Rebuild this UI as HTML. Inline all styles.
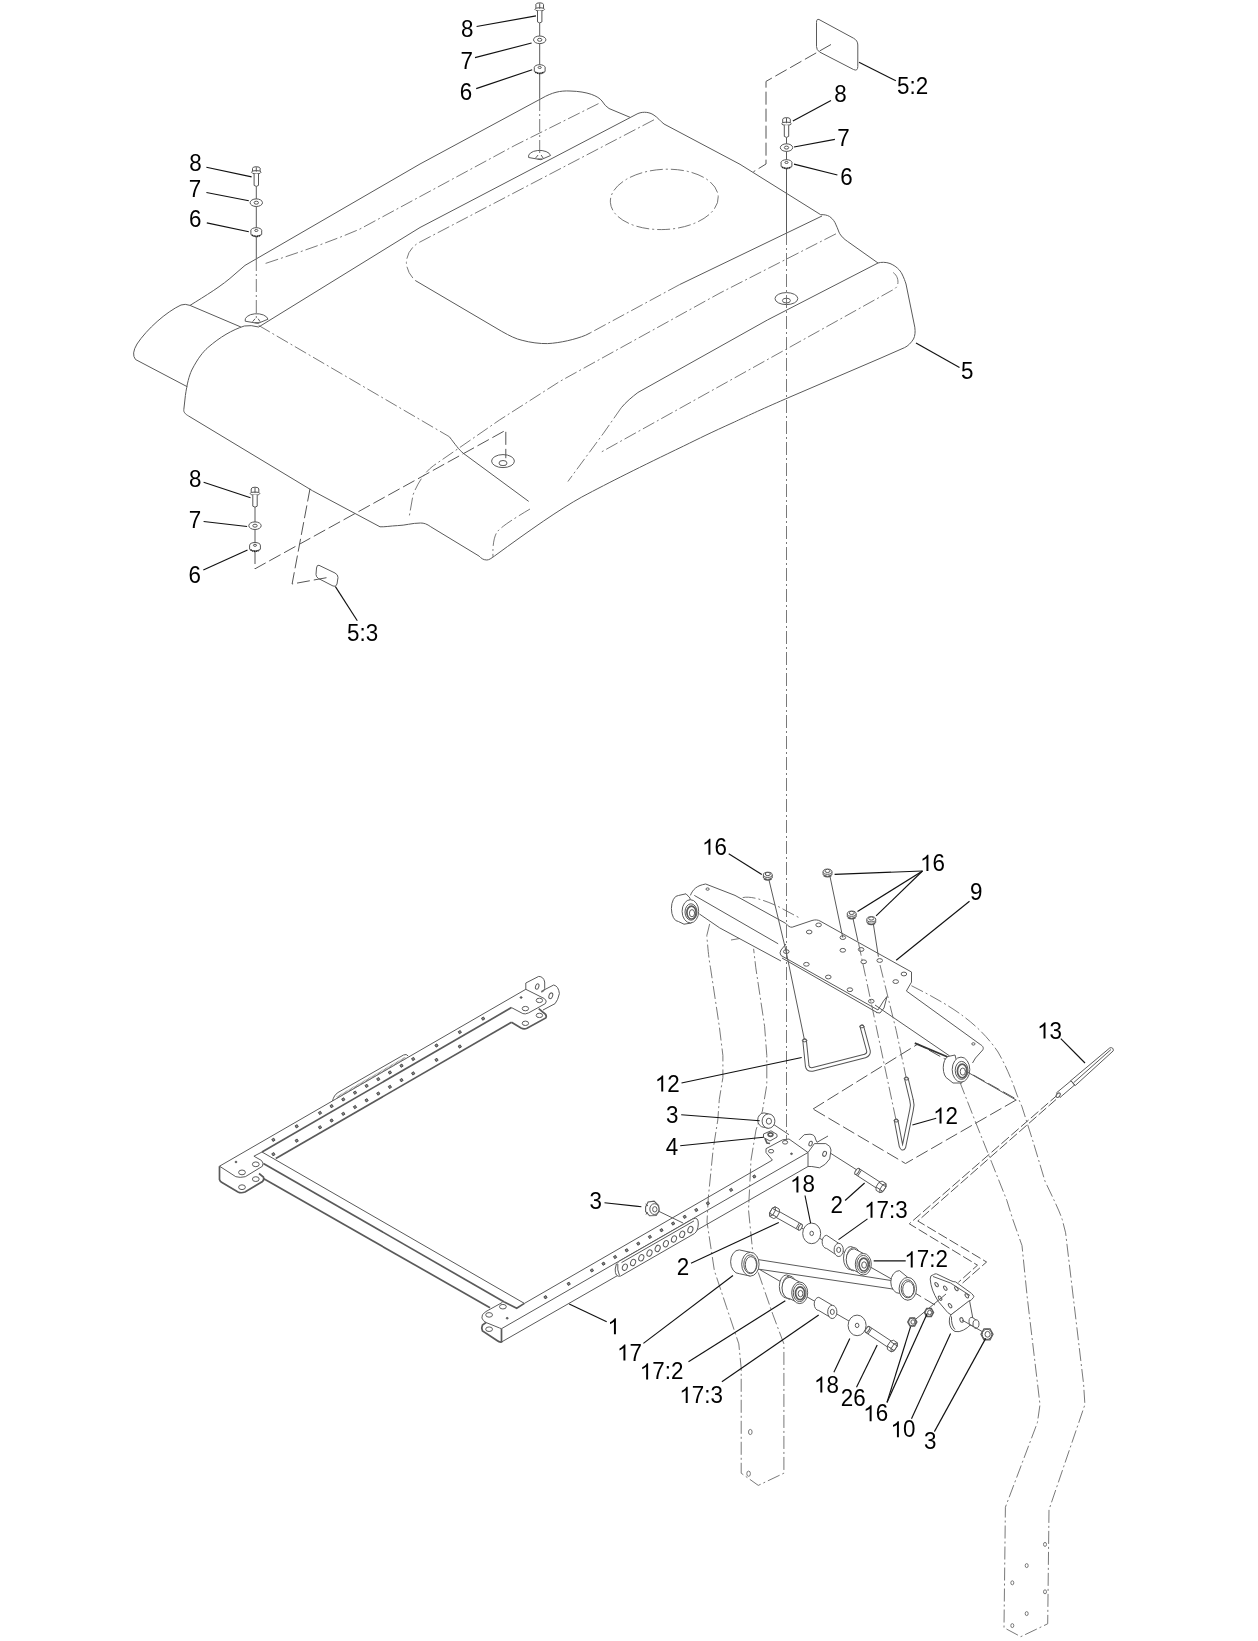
<!DOCTYPE html><html><head><meta charset="utf-8"><style>html,body{margin:0;padding:0;background:#fff;overflow:hidden}
svg{display:block;will-change:transform}
text{font-family:"Liberation Sans",sans-serif;font-size:22.4px;fill:#000}
.o{fill:none;stroke:#5a5a5a;stroke-width:1}
.ot{fill:none;stroke:#5a5a5a;stroke-width:1.7}
.ot2{fill:none;stroke:#333;stroke-width:1.8}
.d{fill:none;stroke:#6a6a6a;stroke-width:0.9;stroke-dasharray:13 3 2 3}
.d2{fill:none;stroke:#6a6a6a;stroke-width:0.9}
.ph{fill:none;stroke:#555;stroke-width:1;stroke-dasharray:13 4}
.ph2{fill:none;stroke:#555;stroke-width:1;stroke-dasharray:10 3}
.l{fill:none;stroke:#111;stroke-width:1.15}
.hw ellipse,.hw path,.hw line{fill:#fff;stroke:#555;stroke-width:1}
.hw line{fill:none}
</style></head><body><svg width="1258" height="1641" viewBox="0 0 1258 1641">
<defs><path id="g1" d="M763,0 L583,0 L583,-1147 Q518,-1085 465,-1054 Q412,-1023 359,-992 Q306,-961 223,-930 L223,-1104 Q372,-1174 428,-1224 Q484,-1274 540,-1324 Q596,-1374 643,-1466 L763,-1466 Z" style="fill:#000"/></defs>
<path class="o" d="M240.9,327 L190,305.4 Q185,303.5 181,305 C166,312 147,329 137,344 Q131,354 135.5,359.5 L187.4,386.8"/>
<path class="o" d="M190,305.4 C205,296 222,286 235,274 Q245,264 255,259.6 L420,164 L542,98.2 C552,92.5 560,90.5 570,91 C588,91.5 598,96 602,101 Q605,106 609,108.5 L630,117.3"/>
<path class="o" d="M258.7,327 L420,227.5 L636,114.5 C641,111.5 648,111.5 653,114.5 C658,117.5 660,121 664,124 L740,164.3 L820.7,214.7 C824,214.5 827,215 829.6,216.5 C833,219 835,222 836,224.9 C838,229 838.5,231.5 839.8,233.8 C842,237 844,239 847.5,241.4 L878,263"/>
<path class="o" d="M878,263 C881,262 886,262 890,263.5 C896,266 900,270 902,274 C904,278 905,281 906,284 L914.8,327.2 C915.5,332 915,336 913.5,339 C911,343 908,346 904.6,347.6 L880,358.4 L785.3,399 C760,410 745,417 734.4,422 C710,433 700,438 683.5,446.1 C640,467 610,482 581.8,497 C560,509 530,530 494.4,556.1 C491,558.5 489,560 486.8,560 C483,560 481,558 479.1,556.1 L430.8,526.8 C427,524 424,523 420.6,523 C412,523 405,525.5 397.7,525.6 C390,526 385,527 380,526.8 L312.6,490.8 L188.6,416 C185,414 183.5,412 183.8,409.7 L185.4,395.4 C187,384 189,376 191.8,370 C198,358 203,352 207.7,347.7 C220,337 232,330 244.3,326"/>
<path class="o" d="M244.3,326 Q251,324.8 258.7,327"/>
<path class="o" d="M822,216 L679.6,284.6"/>
<path class="o" d="M415.3,280.5 L501.8,331.4 C510,336 516,339 522.1,340.3 C530,342.5 540,343.8 547.5,343.6 C560,343 575,339.5 585.7,335.2 L590,333"/>
<path class="o" d="M878,263 L767.4,320 L637.9,392.5 C632,397 626,402 621.3,407.7"/>
<path class="o" d="M449.3,436.7 C455,444 459,450 463.6,453.5 L528.7,501.4"/>
<path class="d" d="M265.6,263.4 C300,252 330,242 360,229 L514.9,145.4 L600.7,102.5"/>
<path class="d" d="M654,119.8 L420,242 Q407,249 406.4,262.7 Q407,273 415.3,280.5"/>
<path class="d" d="M679.6,284.6 L590,333"/>
<path class="d" d="M836,233.8 L720,293 L560,381.3 L499.5,420 L433.3,465.8 C425,472 418,482 413,495 L409.2,516.7"/>
<path class="d" d="M893.2,272.5 C898,276 899,282 897,286.5 C895,289 893,290 892,290.3 L601,452.2"/>
<path class="d" d="M621.3,407.7 L603.5,433.2 L567.9,481.5"/>
<path class="d" d="M530,509 C515,518 502,526 497,532 C494,537 492.5,545 493,557"/>
<path class="d" d="M258.6,325.4 L449.3,436.7"/>
<ellipse class="d" cx="664.3" cy="199.4" rx="54.0" ry="30.1" transform="rotate(-3 664.3 199.4)"/>
<path class="o" d="M245.2,321.2 A11.4,6.4 0 0 1 268.0,319.2 L257.9,323.4 Z"/>
<path class="o" d="M252.6,321.7 L255.1,318.7 M258.1,318.7 L260.1,321.7 M254.6,322.7 L259.1,322.7"/>
<path class="o" d="M528.6,157.5 A11,6 0 0 1 550.6,155.5 L540.9,159.7 Z"/>
<path class="o" d="M535.6,158.0 L538.1,155.0 M541.1,155.0 L543.1,158.0 M537.6,159.0 L542.1,159.0"/>
<ellipse class="o" cx="786.4" cy="298.6" rx="11.4" ry="6.0"/>
<ellipse class="o" cx="786.4" cy="300.6" rx="4.0" ry="2.4"/>
<ellipse class="o" cx="503.0" cy="461.1" rx="11.4" ry="6.5"/>
<ellipse class="o" cx="503.0" cy="463.1" rx="4.0" ry="2.6"/>
<path class="o" d="M539.7,23 L539.7,98"/>
<path class="d" d="M539.7,98 L539.7,156"/>
<path class="o" d="M256.3,186 L256.3,258"/>
<path class="d" d="M256.3,258 L256.3,320"/>
<path class="o" d="M786.5,137 L786.5,232"/>
<path class="d" d="M786.5,232 L786.5,1140"/>
<path class="o" d="M255,507 L255,547"/>
<path class="ph" d="M255,551 L255,568.8 L505.8,430.2 L505.8,458.2"/>
<path class="ph" d="M310,488.7 L292.1,584 L326.5,577.7"/>
<path class="ph" d="M831,44.5 L766,81.4 L766,164 L753.4,171.8"/>
<path class="o" d="M819,19.5 L853.5,38.2 Q857.8,40.5 857.8,45 L857.8,66.5 Q857.8,71.5 853.5,69.5 L819.6,52 Q816.5,50 816.5,46.5 L816.5,22.5 Q816.5,18.5 819,19.5Z"/>
<path class="o" d="M319,565.3 L335,573 Q338,574.5 338,577.5 L337,584 Q336,587.5 333,586 L318.5,578.5 Q316,577 316,574.5 L316.5,568 Q317,564.5 319,565.3Z"/>
<g class="hw"><ellipse cx="539.7" cy="4.6" rx="3.8" ry="1.8"/><path d="M535.9,4.6 L535.9,8.8 L543.5,8.8 L543.5,4.6"/><ellipse cx="539.7" cy="9.3" rx="4.8" ry="1.6"/><line x1="539.7" y1="3.3" x2="539.7" y2="8.8"/><path d="M537.5,10.8 L537.5,21.9 Q539.7,23.9 541.9,21.9 L541.9,10.8"/></g>
<g class="hw"><ellipse cx="539.7" cy="39.8" rx="6.2" ry="3.8"/><ellipse cx="539.7" cy="39.8" rx="2.2" ry="1.5"/></g>
<g class="hw"><ellipse cx="539.7" cy="67.5" rx="5.4" ry="2.8"/><path d="M534.3000000000001,67.5 L534.3000000000001,71.5 Q539.7,75.14 545.1,71.5 L545.1,67.5"/><path d="M535.3000000000001,72.1 Q539.7,74.86 544.1,72.1" style="stroke:#222;stroke-width:1.7;stroke-dasharray:1.1 0.7;fill:none"/><ellipse cx="539.7" cy="67.5" rx="1.6" ry="1.0"/></g>
<g class="hw"><ellipse cx="256.3" cy="168.5" rx="3.8" ry="1.8"/><path d="M252.5,168.5 L252.5,171.7 L260.1,171.7 L260.1,168.5"/><ellipse cx="256.3" cy="172.2" rx="4.8" ry="1.6"/><line x1="256.3" y1="167.2" x2="256.3" y2="171.7"/><path d="M254.1,173.7 L254.1,185.4 Q256.3,187.4 258.5,185.4 L258.5,173.7"/></g>
<g class="hw"><ellipse cx="256.3" cy="202.7" rx="6.2" ry="3.8"/><ellipse cx="256.3" cy="202.7" rx="2.2" ry="1.5"/></g>
<g class="hw"><ellipse cx="256.3" cy="230.5" rx="5.4" ry="2.8"/><path d="M250.9,230.5 L250.9,234.5 Q256.3,238.14 261.7,234.5 L261.7,230.5"/><path d="M251.9,235.1 Q256.3,237.86 260.7,235.1" style="stroke:#222;stroke-width:1.7;stroke-dasharray:1.1 0.7;fill:none"/><ellipse cx="256.3" cy="230.5" rx="1.6" ry="1.0"/></g>
<g class="hw"><ellipse cx="786.5" cy="119.39999999999999" rx="3.8" ry="1.8"/><path d="M782.7,119.39999999999999 L782.7,123.2 L790.3,123.2 L790.3,119.39999999999999"/><ellipse cx="786.5" cy="123.7" rx="4.8" ry="1.6"/><line x1="786.5" y1="118.1" x2="786.5" y2="123.2"/><path d="M784.3,125.2 L784.3,136.4 Q786.5,138.4 788.7,136.4 L788.7,125.2"/></g>
<g class="hw"><ellipse cx="786.5" cy="147.6" rx="6.2" ry="3.8"/><ellipse cx="786.5" cy="147.6" rx="2.2" ry="1.5"/></g>
<g class="hw"><ellipse cx="786.5" cy="162.5" rx="5.4" ry="2.8"/><path d="M781.1,162.5 L781.1,166.5 Q786.5,170.14 791.9,166.5 L791.9,162.5"/><path d="M782.1,167.1 Q786.5,169.86 790.9,167.1" style="stroke:#222;stroke-width:1.7;stroke-dasharray:1.1 0.7;fill:none"/><ellipse cx="786.5" cy="162.5" rx="1.6" ry="1.0"/></g>
<g class="hw"><ellipse cx="255" cy="489.0" rx="3.8" ry="1.8"/><path d="M251.2,489.0 L251.2,493.1 L258.8,493.1 L258.8,489.0"/><ellipse cx="255" cy="493.6" rx="4.8" ry="1.6"/><line x1="255" y1="487.7" x2="255" y2="493.1"/><path d="M252.8,495.1 L252.8,506.2 Q255,508.2 257.2,506.2 L257.2,495.1"/></g>
<g class="hw"><ellipse cx="255" cy="525.7" rx="6.2" ry="3.8"/><ellipse cx="255" cy="525.7" rx="2.2" ry="1.5"/></g>
<g class="hw"><ellipse cx="255" cy="545.3" rx="5.4" ry="2.8"/><path d="M249.6,545.3 L249.6,549.3 Q255,552.9399999999999 260.4,549.3 L260.4,545.3"/><path d="M250.6,549.9 Q255,552.66 259.4,549.9" style="stroke:#222;stroke-width:1.7;stroke-dasharray:1.1 0.7;fill:none"/><ellipse cx="255" cy="545.3" rx="1.6" ry="1.0"/></g>
<line class="l" x1="476.6" y1="26.5" x2="536.0" y2="15.9"/>
<line class="l" x1="475.0" y1="57.6" x2="531.6" y2="43.0"/>
<line class="l" x1="476.2" y1="88.6" x2="532.2" y2="69.7"/>
<line class="l" x1="206.4" y1="167.3" x2="251.6" y2="176.9"/>
<line class="l" x1="206.4" y1="192.5" x2="248.8" y2="200.8"/>
<line class="l" x1="206.8" y1="222.9" x2="248.8" y2="231.8"/>
<line class="l" x1="792.9" y1="120.9" x2="831.0" y2="100.5"/>
<line class="l" x1="794.0" y1="147.0" x2="834.9" y2="139.4"/>
<line class="l" x1="794.0" y1="164.1" x2="837.4" y2="175.0"/>
<line class="l" x1="203.6" y1="482.2" x2="250.5" y2="497.7"/>
<line class="l" x1="203.6" y1="521.5" x2="247.1" y2="526.5"/>
<line class="l" x1="203.3" y1="569.9" x2="247.5" y2="549.9"/>
<line class="l" x1="859.0" y1="62.3" x2="895.9" y2="80.8"/>
<line class="l" x1="916.0" y1="343.0" x2="959.5" y2="367.4"/>
<line class="l" x1="335.4" y1="586.6" x2="357.3" y2="620.7"/>
<text transform="translate(460.93,37.40) scale(1,1.035)">8</text>
<text transform="translate(460.45,68.70) scale(1,1.035)">7</text>
<text transform="translate(459.86,100.40) scale(1,1.035)">6</text>
<text transform="translate(189.33,170.80) scale(1,1.035)">8</text>
<text transform="translate(188.75,197.20) scale(1,1.035)">7</text>
<text transform="translate(188.96,226.80) scale(1,1.035)">6</text>
<text transform="translate(834.23,101.70) scale(1,1.035)">8</text>
<text transform="translate(837.15,145.50) scale(1,1.035)">7</text>
<text transform="translate(840.16,185.00) scale(1,1.035)">6</text>
<text transform="translate(897.10,93.60) scale(1,1.035)">5</text>
<text transform="translate(909.56,93.60) scale(1,1.035)">:</text>
<text transform="translate(915.78,93.60) scale(1,1.035)">2</text>
<text transform="translate(961.00,378.60) scale(1,1.035)">5</text>
<text transform="translate(189.03,486.60) scale(1,1.035)">8</text>
<text transform="translate(188.85,528.00) scale(1,1.035)">7</text>
<text transform="translate(188.56,583.30) scale(1,1.035)">6</text>
<text transform="translate(347.00,640.50) scale(1,1.035)">5</text>
<text transform="translate(359.46,640.50) scale(1,1.035)">:</text>
<text transform="translate(365.68,640.50) scale(1,1.035)">3</text>
<path class="d" d="M709.7,923.9 L706.8,935.6 C708,950 709,960 710.5,967.8 L714.9,997 L719.3,1026.3 L722.9,1055.5 L722.9,1077.5 L719.3,1099.4 L717.8,1120 L713.2,1148.8 L708.3,1197.6 L707,1222 L714.4,1270.7 L726.6,1307.3 L738.8,1343.9 L741.2,1368.3 L741.2,1473.2 L758.3,1485.4 L783.9,1473.2 L783.9,1343.9 L772.9,1314.6 L753.4,1258.5 L748.5,1209.8 L751,1160 L756,1130 L762.4,1111.1 L766.8,1084.8 L766.8,1055.5 L764.6,1026.3 L760.2,997 L755.8,967.8 L753.6,948.8"/>
<path class="d" d="M742.7,897.6 C750,896 762,899 777.8,906.3 L799.7,918"/>
<path class="d2" d="M731,940 L739.7,938.5"/>
<ellipse class="d2" cx="750.3" cy="1432.0" rx="1.8" ry="2.6"/>
<ellipse class="d2" cx="748.6" cy="1473.7" rx="1.8" ry="2.6"/>
<path class="d" d="M911.4,985.7 C930,995 950,1006 963,1016 C978,1027 990,1040 998,1052 C1005,1064 1012,1080 1017,1095 L1022,1106.8 L1033.5,1143 L1045,1181.2 C1053,1198 1059,1210 1062.2,1219.4 L1065.6,1232.8 L1083.6,1384.1 L1084.9,1404.6 L1049,1509.7 L1047.7,1623.8 L1020.8,1636.7 L1004,1627.7 L1005.4,1507.2 L1037.4,1422.6 L1040,1404.6 L1027.2,1297 L1022,1245.6 L1013,1220 L1006.8,1200.3 L991.6,1162.2 L976.3,1124 L959.1,1080.1"/>
<ellipse class="d2" cx="1045.0" cy="1544.4" rx="1.5" ry="2.0"/>
<ellipse class="d2" cx="1026.7" cy="1565.6" rx="1.5" ry="2.0"/>
<ellipse class="d2" cx="1012.3" cy="1582.8" rx="1.5" ry="2.0"/>
<ellipse class="d2" cx="1045.0" cy="1591.8" rx="1.5" ry="2.0"/>
<ellipse class="d2" cx="1026.7" cy="1613.6" rx="1.5" ry="2.0"/>
<ellipse class="d2" cx="1012.3" cy="1625.6" rx="1.5" ry="2.0"/>
<path class="ph" d="M813,1109 L918,1044 L1017,1099.5 L905.5,1163.5 Z"/>
<path class="ph2" d="M1058,1094.5 L909.3,1223.8 L977.5,1265.2 L958.4,1282.3"/>
<path class="ph2" d="M1056,1099.5 L917.8,1221 L986.6,1262 L961.6,1283.9"/>
<path class="o" d="M219.5,1166.2 L525.8,989.3"/>
<path class="ot" d="M262,1152 L511.5,1007.6"/>
<path class="ot" d="M275.8,1158.6 L511.5,1022.2"/>
<path class="o" d="M525.8,989.3 L544.4,998.6 Q547.5,1001 545.5,1003.5 L528.6,1012.9 Q525,1014.5 522.9,1013.6 L511.5,1007.6"/>
<path class="ot" d="M538.7,1008.6 L543,1012.2 Q547.5,1015 545.8,1017.9 L527,1028.2 Q524,1029.5 521,1028 L511.5,1022.2"/>
<ellipse class="o" cx="539.4" cy="1000.4" rx="3.2" ry="2.2"/>
<ellipse class="o" cx="525.4" cy="1008.6" rx="3.2" ry="2.2"/>
<ellipse class="o" cx="539.4" cy="1015.4" rx="3.2" ry="2.2"/>
<ellipse class="o" cx="525.4" cy="1023.3" rx="3.2" ry="2.2"/>
<ellipse class="o" cx="521.1" cy="997.5" rx="1.0" ry="0.8" style="fill:#555"/>
<path class="o" d="M525.8,989.5 L525.8,983 L538.7,976.4 Q543.5,976.5 544.7,982 L544.7,988.6 Q544,992 541.5,992.2"/>
<ellipse class="o" cx="537.2" cy="986.5" rx="1.6" ry="2.8" transform="rotate(20 537.2 986.5)"/>
<path class="o" d="M541,991.5 L553.7,985 Q558.5,986 559.4,993.6 Q558,1000 555.1,1003.6 L543,1010"/>
<ellipse class="o" cx="550.8" cy="995.8" rx="1.8" ry="3.0" transform="rotate(20 550.8 995.8)"/>
<path class="o" d="M332.5,1101 C333.5,1097 335,1094.5 338,1092.5 L403.5,1055 Q406.5,1053.5 408.2,1056"/>
<path d="M337,1097.5 L405.5,1057.8" style="fill:none;stroke:#777;stroke-width:2.2;stroke-dasharray:0.7 0.7"/>
<rect x="272.2" y="1138.6" width="2.4" height="2.4" transform="rotate(-30 273.4 1139.8)" style="fill:#888;stroke:#333;stroke-width:0.7"/>
<rect x="272.2" y="1153.0" width="2.4" height="2.4" transform="rotate(-30 273.4 1154.2)" style="fill:#888;stroke:#333;stroke-width:0.7"/>
<rect x="295.5" y="1125.1" width="2.4" height="2.4" transform="rotate(-30 296.7 1126.3)" style="fill:#888;stroke:#333;stroke-width:0.7"/>
<rect x="295.5" y="1139.5" width="2.4" height="2.4" transform="rotate(-30 296.7 1140.7)" style="fill:#888;stroke:#333;stroke-width:0.7"/>
<rect x="318.8" y="1111.7" width="2.4" height="2.4" transform="rotate(-30 320.0 1112.9)" style="fill:#888;stroke:#333;stroke-width:0.7"/>
<rect x="318.8" y="1126.1" width="2.4" height="2.4" transform="rotate(-30 320.0 1127.3)" style="fill:#888;stroke:#333;stroke-width:0.7"/>
<rect x="330.4" y="1104.9" width="2.4" height="2.4" transform="rotate(-30 331.6 1106.1)" style="fill:#888;stroke:#333;stroke-width:0.7"/>
<rect x="330.4" y="1119.3" width="2.4" height="2.4" transform="rotate(-30 331.6 1120.5)" style="fill:#888;stroke:#333;stroke-width:0.7"/>
<rect x="342.1" y="1098.2" width="2.4" height="2.4" transform="rotate(-30 343.3 1099.4)" style="fill:#888;stroke:#333;stroke-width:0.7"/>
<rect x="342.1" y="1112.6" width="2.4" height="2.4" transform="rotate(-30 343.3 1113.8)" style="fill:#888;stroke:#333;stroke-width:0.7"/>
<rect x="353.8" y="1091.5" width="2.4" height="2.4" transform="rotate(-30 354.9 1092.7)" style="fill:#888;stroke:#333;stroke-width:0.7"/>
<rect x="353.8" y="1105.9" width="2.4" height="2.4" transform="rotate(-30 354.9 1107.1)" style="fill:#888;stroke:#333;stroke-width:0.7"/>
<rect x="365.4" y="1084.7" width="2.4" height="2.4" transform="rotate(-30 366.6 1085.9)" style="fill:#888;stroke:#333;stroke-width:0.7"/>
<rect x="365.4" y="1099.1" width="2.4" height="2.4" transform="rotate(-30 366.6 1100.3)" style="fill:#888;stroke:#333;stroke-width:0.7"/>
<rect x="377.1" y="1078.0" width="2.4" height="2.4" transform="rotate(-30 378.2 1079.2)" style="fill:#888;stroke:#333;stroke-width:0.7"/>
<rect x="377.1" y="1092.4" width="2.4" height="2.4" transform="rotate(-30 378.2 1093.6)" style="fill:#888;stroke:#333;stroke-width:0.7"/>
<rect x="388.7" y="1071.3" width="2.4" height="2.4" transform="rotate(-30 389.9 1072.5)" style="fill:#888;stroke:#333;stroke-width:0.7"/>
<rect x="388.7" y="1085.7" width="2.4" height="2.4" transform="rotate(-30 389.9 1086.9)" style="fill:#888;stroke:#333;stroke-width:0.7"/>
<rect x="400.3" y="1064.5" width="2.4" height="2.4" transform="rotate(-30 401.5 1065.7)" style="fill:#888;stroke:#333;stroke-width:0.7"/>
<rect x="400.3" y="1078.9" width="2.4" height="2.4" transform="rotate(-30 401.5 1080.1)" style="fill:#888;stroke:#333;stroke-width:0.7"/>
<rect x="412.0" y="1057.8" width="2.4" height="2.4" transform="rotate(-30 413.2 1059.0)" style="fill:#888;stroke:#333;stroke-width:0.7"/>
<rect x="412.0" y="1072.2" width="2.4" height="2.4" transform="rotate(-30 413.2 1073.4)" style="fill:#888;stroke:#333;stroke-width:0.7"/>
<rect x="435.3" y="1044.3" width="2.4" height="2.4" transform="rotate(-30 436.5 1045.5)" style="fill:#888;stroke:#333;stroke-width:0.7"/>
<rect x="435.3" y="1058.7" width="2.4" height="2.4" transform="rotate(-30 436.5 1059.9)" style="fill:#888;stroke:#333;stroke-width:0.7"/>
<rect x="458.6" y="1030.9" width="2.4" height="2.4" transform="rotate(-30 459.8 1032.1)" style="fill:#888;stroke:#333;stroke-width:0.7"/>
<rect x="458.6" y="1045.3" width="2.4" height="2.4" transform="rotate(-30 459.8 1046.5)" style="fill:#888;stroke:#333;stroke-width:0.7"/>
<rect x="481.9" y="1017.4" width="2.4" height="2.4" transform="rotate(-30 483.1 1018.6)" style="fill:#888;stroke:#333;stroke-width:0.7"/>
<path class="o" d="M262,1152 L253.9,1156.2 L261.5,1160.5 Q264,1163 262.5,1166.2 L245.3,1176.7 Q240,1178 235.8,1176.7 L219.5,1166.2"/>
<path class="ot" d="M219.5,1166.2 L219.5,1179.5 Q220,1181.5 222,1182.5 L238,1192 Q241,1193.5 245,1192 L262.5,1181.5 Q264.5,1179.5 263.4,1177 L259,1173.5"/>
<ellipse class="o" cx="255.8" cy="1164.3" rx="3.4" ry="2.4"/>
<ellipse class="o" cx="242.0" cy="1172.4" rx="3.4" ry="2.4"/>
<ellipse class="o" cx="255.8" cy="1179.1" rx="3.4" ry="2.4"/>
<ellipse class="o" cx="242.0" cy="1187.2" rx="3.4" ry="2.4"/>
<ellipse class="o" cx="236.0" cy="1162.0" rx="0.9" ry="0.8" style="fill:#555"/>
<path class="o" d="M262,1152 L524.4,1303.4"/>
<path class="ot" d="M263.4,1163.4 L504.3,1302"/>
<path class="ot" d="M263.4,1178.6 L490,1307.7"/>
<path class="ot" d="M504.3,1302 L516.7,1308.2 L524.4,1303.4"/>
<path class="o" d="M524.4,1303.4 L772.4,1160.1"/>
<path class="o" d="M501.5,1328.7 L808,1152.5"/>
<path class="o" d="M501.5,1342 L808,1166.5"/>
<path class="o" d="M808,1152.5 L808,1166.5"/>
<path class="o" d="M502.4,1302.4 L486,1311.5 Q481,1314.5 481.9,1318 Q483,1321 486,1322.5 L499.6,1328 L501.5,1328.7"/>
<path class="ot" d="M486,1322.5 L482.5,1325 Q481,1328 482.5,1331 L497,1340.5 Q499.5,1342.5 501.5,1342 L501.5,1328.7"/>
<ellipse class="o" cx="502.9" cy="1306.7" rx="3.4" ry="2.3"/>
<ellipse class="o" cx="489.1" cy="1314.9" rx="3.4" ry="2.3"/>
<ellipse class="o" cx="489.1" cy="1329.2" rx="3.4" ry="2.3"/>
<ellipse class="o" cx="507.2" cy="1318.2" rx="1.0" ry="0.8" style="fill:#555"/>
<rect x="544.3" y="1296.0" width="2.4" height="2.4" transform="rotate(-30 545.5 1297.2)" style="fill:#888;stroke:#333;stroke-width:0.7"/>
<rect x="567.5" y="1282.6" width="2.4" height="2.4" transform="rotate(-30 568.7 1283.8)" style="fill:#888;stroke:#333;stroke-width:0.7"/>
<rect x="590.7" y="1269.2" width="2.4" height="2.4" transform="rotate(-30 591.9 1270.4)" style="fill:#888;stroke:#333;stroke-width:0.7"/>
<rect x="602.3" y="1262.5" width="2.4" height="2.4" transform="rotate(-30 603.5 1263.7)" style="fill:#888;stroke:#333;stroke-width:0.7"/>
<rect x="613.9" y="1255.8" width="2.4" height="2.4" transform="rotate(-30 615.1 1257.0)" style="fill:#888;stroke:#333;stroke-width:0.7"/>
<rect x="625.5" y="1249.1" width="2.4" height="2.4" transform="rotate(-30 626.7 1250.3)" style="fill:#888;stroke:#333;stroke-width:0.7"/>
<rect x="637.1" y="1242.4" width="2.4" height="2.4" transform="rotate(-30 638.3 1243.6)" style="fill:#888;stroke:#333;stroke-width:0.7"/>
<rect x="648.7" y="1235.7" width="2.4" height="2.4" transform="rotate(-30 649.9 1236.9)" style="fill:#888;stroke:#333;stroke-width:0.7"/>
<rect x="660.3" y="1229.0" width="2.4" height="2.4" transform="rotate(-30 661.5 1230.2)" style="fill:#888;stroke:#333;stroke-width:0.7"/>
<rect x="671.9" y="1222.3" width="2.4" height="2.4" transform="rotate(-30 673.1 1223.5)" style="fill:#888;stroke:#333;stroke-width:0.7"/>
<rect x="683.5" y="1215.6" width="2.4" height="2.4" transform="rotate(-30 684.7 1216.8)" style="fill:#888;stroke:#333;stroke-width:0.7"/>
<rect x="695.1" y="1208.8" width="2.4" height="2.4" transform="rotate(-30 696.3 1210.0)" style="fill:#888;stroke:#333;stroke-width:0.7"/>
<rect x="706.7" y="1202.1" width="2.4" height="2.4" transform="rotate(-30 707.9 1203.3)" style="fill:#888;stroke:#333;stroke-width:0.7"/>
<rect x="729.9" y="1188.7" width="2.4" height="2.4" transform="rotate(-30 731.1 1189.9)" style="fill:#888;stroke:#333;stroke-width:0.7"/>
<rect x="753.1" y="1175.3" width="2.4" height="2.4" transform="rotate(-30 754.3 1176.5)" style="fill:#888;stroke:#333;stroke-width:0.7"/>
<path class="o" style="fill:#fff" d="M619.5,1261 L693,1218.8 Q698.5,1216.5 698.3,1224 Q698,1231 694.5,1233.5 L620.5,1276.1 Q615,1277.5 615.2,1269 Q615.4,1263 619.5,1261 Z"/>
<path class="o" d="M621.5,1262.6 L694,1220.9"/>
<path class="o" d="M617.8,1264 Q617,1270 619.5,1275.5"/>
<ellipse class="o" cx="624.9" cy="1267.2" rx="2.4" ry="3.3" transform="rotate(22 624.9 1267.2)"/>
<ellipse class="o" cx="633.1" cy="1262.5" rx="2.4" ry="3.3" transform="rotate(22 633.1 1262.5)"/>
<ellipse class="o" cx="641.3" cy="1257.8" rx="2.4" ry="3.3" transform="rotate(22 641.3 1257.8)"/>
<ellipse class="o" cx="649.5" cy="1253.1" rx="2.4" ry="3.3" transform="rotate(22 649.5 1253.1)"/>
<ellipse class="o" cx="657.7" cy="1248.4" rx="2.4" ry="3.3" transform="rotate(22 657.7 1248.4)"/>
<ellipse class="o" cx="665.9" cy="1243.7" rx="2.4" ry="3.3" transform="rotate(22 665.9 1243.7)"/>
<ellipse class="o" cx="674.0" cy="1239.0" rx="2.4" ry="3.3" transform="rotate(22 674.0 1239.0)"/>
<ellipse class="o" cx="682.2" cy="1234.3" rx="2.4" ry="3.3" transform="rotate(22 682.2 1234.3)"/>
<ellipse class="o" cx="690.4" cy="1229.6" rx="2.4" ry="3.3" transform="rotate(22 690.4 1229.6)"/>
<path class="o" d="M772.4,1160.1 L766,1152.5 L766,1148.7 L782.6,1139.8 L789,1139 L808,1152.5"/>
<ellipse class="o" cx="785.1" cy="1142.3" rx="2.6" ry="1.8"/>
<ellipse class="o" cx="771.1" cy="1151.2" rx="2.6" ry="1.8"/>
<ellipse class="o" cx="791.5" cy="1153.8" rx="0.9" ry="0.8" style="fill:#555"/>
<path class="o" d="M808,1152.5 L814.4,1143.6 L825.8,1143.6 Q831,1146 831,1150 L829.7,1158.9 Q826,1165 819.5,1167.8 L811.8,1166.5 L808,1166.5"/>
<ellipse class="o" cx="824.6" cy="1153.8" rx="1.8" ry="2.6" transform="rotate(20 824.6 1153.8)"/>
<path class="o" d="M799.1,1139.8 L804.2,1134.7 L810,1134.2 Q815,1134.5 815.5,1139 L817,1142.3"/>
<ellipse class="o" cx="810.6" cy="1143.6" rx="1.6" ry="2.4" transform="rotate(20 810.6 1143.6)"/>
<path class="o" d="M817,1142.3 L828,1136"/>
<path class="o" d="M690.4,895.4 C693,889 697,885.5 705.7,884 L735,895.4 L785.8,923.4 C788,926 790,927.5 792.2,927.2 L812,920.5 C815,919.5 818,919.8 820,921 L911.5,972 L911.5,982.1 L906.4,991 L980.2,1044.4 C983,1046 984,1048 982.7,1050 L975.5,1058 L972.5,1063"/>
<path class="o" d="M694.3,895.4 L778.2,943.8"/>
<path class="o" d="M699.3,913.9 L719.7,927.9 L781,961"/>
<path class="o" d="M875,1005 L949.6,1055.9"/>
<path class="ot2" d="M914.8,1043.2 L949,1057.5"/>
<path class="o" d="M786,944 L781,950 Q779,953 781,955.5 L878,1010 L883.5,1001 L887,996.5 L884,1008 L880,1013 L876,1012.5"/>
<path class="o" d="M782,958 L877,1012.5"/>
<ellipse class="o" cx="809.2" cy="932.0" rx="2.8" ry="1.9"/>
<ellipse class="o" cx="818.6" cy="924.9" rx="2.8" ry="1.9"/>
<ellipse class="o" cx="842.8" cy="937.6" rx="2.8" ry="1.9"/>
<ellipse class="o" cx="842.8" cy="950.3" rx="2.8" ry="1.9"/>
<ellipse class="o" cx="861.1" cy="949.5" rx="2.8" ry="1.9"/>
<ellipse class="o" cx="863.7" cy="961.8" rx="2.8" ry="1.9"/>
<ellipse class="o" cx="879.7" cy="960.5" rx="2.8" ry="1.9"/>
<ellipse class="o" cx="806.4" cy="964.3" rx="2.8" ry="1.9"/>
<ellipse class="o" cx="828.3" cy="977.0" rx="2.8" ry="1.9"/>
<ellipse class="o" cx="849.9" cy="989.7" rx="2.8" ry="1.9"/>
<ellipse class="o" cx="871.3" cy="1001.2" rx="2.8" ry="1.9"/>
<ellipse class="o" cx="895.7" cy="981.6" rx="2.8" ry="1.9"/>
<ellipse class="o" cx="903.9" cy="974.0" rx="2.8" ry="1.9"/>
<ellipse class="o" cx="786.3" cy="951.6" rx="2.8" ry="1.9"/>
<ellipse class="o" cx="707.6" cy="889.1" rx="1.6" ry="1.2"/>
<ellipse class="o" cx="973.4" cy="1043.9" rx="1.6" ry="1.2"/>
<path class="o" style="fill:#fff" d="M678.4,895.5 L686,893.8 L690,898 L691.5,923 L684,924.2 L678.4,921.5 A7,13 0 0 1 678.4,895.5Z"/>
<ellipse class="o" cx="690.4" cy="911.3" rx="8.3" ry="11.6" style="fill:#fff"/>
<ellipse class="o" cx="691.0" cy="912.0" rx="6.0" ry="8.2"/>
<ellipse class="ot" cx="691.5" cy="912.6" rx="4.6" ry="6.4"/>
<ellipse class="o" cx="692.0" cy="913.2" rx="2.6" ry="3.6"/>
<path class="o" style="fill:#fff" d="M948,1056.5 L955,1055 L962,1083 L953,1083 L948,1079 A6,11.5 0 0 1 948,1056.5Z"/>
<ellipse class="o" cx="961.0" cy="1069.6" rx="8.8" ry="12.5" style="fill:#fff"/>
<ellipse class="o" cx="961.6" cy="1070.4" rx="6.4" ry="9.0"/>
<ellipse class="ot" cx="962.2" cy="1071.0" rx="4.8" ry="6.8"/>
<ellipse class="o" cx="962.8" cy="1071.6" rx="2.6" ry="3.6"/>
<path class="o" d="M964.9,1070.6 L1016.4,1100.2"/>
<path class="o" d="M769,880 L786,951"/>
<path class="o" d="M786,951 L804.6,1040.6"/>
<path class="o" d="M830,876.5 L842.8,937.6"/>
<path class="o" d="M853,918.5 L858,941.4"/>
<path class="d" d="M858.5,943 L896.2,1120.8"/>
<path class="o" d="M873.3,923.6 L878.4,956.7"/>
<path class="d" d="M880,965 L896.2,1030.4 L906.4,1078.8"/>
<g class="hw"><path d="M763.4,874.8 L763.4,878.0 Q767.8,880.8 772.1999999999999,878.0 L772.1999999999999,874.8"/><ellipse cx="767.8" cy="874.8" rx="4.4" ry="2.6" style="fill:#fff"/><ellipse cx="767.8" cy="874.0" rx="2.6" ry="1.6"/><path d="M764.0,878.8 Q767.8,881.0999999999999 771.5999999999999,878.8" style="stroke-width:1.4"/></g>
<g class="hw"><path d="M823.1,871.7 L823.1,874.9000000000001 Q827.5,877.7 831.9,874.9000000000001 L831.9,871.7"/><ellipse cx="827.5" cy="871.7" rx="4.4" ry="2.6" style="fill:#fff"/><ellipse cx="827.5" cy="870.9000000000001" rx="2.6" ry="1.6"/><path d="M823.7,875.7 Q827.5,878.0 831.3,875.7" style="stroke-width:1.4"/></g>
<g class="hw"><path d="M847.3000000000001,913.7 L847.3000000000001,916.9000000000001 Q851.7,919.7 856.1,916.9000000000001 L856.1,913.7"/><ellipse cx="851.7" cy="913.7" rx="4.4" ry="2.6" style="fill:#fff"/><ellipse cx="851.7" cy="912.9000000000001" rx="2.6" ry="1.6"/><path d="M847.9000000000001,917.7 Q851.7,920.0 855.5,917.7" style="stroke-width:1.4"/></g>
<g class="hw"><path d="M866.9,919.3 L866.9,922.5 Q871.3,925.3 875.6999999999999,922.5 L875.6999999999999,919.3"/><ellipse cx="871.3" cy="919.3" rx="4.4" ry="2.6" style="fill:#fff"/><ellipse cx="871.3" cy="918.5" rx="2.6" ry="1.6"/><path d="M867.5,923.3 Q871.3,925.5999999999999 875.0999999999999,923.3" style="stroke-width:1.4"/></g>
<path d="M804.6,1040.6 L807.2,1066 Q808,1070 812.3,1069.5 L865,1056 Q869,1054.5 868.5,1051 L861.9,1026.6" style="fill:none;stroke:#555;stroke-width:4.6;stroke-linecap:round;stroke-linejoin:round"/>
<path d="M804.6,1040.6 L807.2,1066 Q808,1070 812.3,1069.5 L865,1056 Q869,1054.5 868.5,1051 L861.9,1026.6" style="fill:none;stroke:#fff;stroke-width:2.6;stroke-linecap:round;stroke-linejoin:round"/>
<ellipse class="o" cx="804.6" cy="1040.6" rx="2.3" ry="1.2"/>
<ellipse class="o" cx="861.9" cy="1026.6" rx="2.3" ry="1.2"/>
<path d="M906.4,1078.8 L911.5,1100 Q913,1105 911.5,1110 L903.9,1147 Q902.5,1150 901,1146 L896.2,1120.8" style="fill:none;stroke:#555;stroke-width:4.6;stroke-linecap:round;stroke-linejoin:round"/>
<path d="M906.4,1078.8 L911.5,1100 Q913,1105 911.5,1110 L903.9,1147 Q902.5,1150 901,1146 L896.2,1120.8" style="fill:none;stroke:#fff;stroke-width:2.6;stroke-linecap:round;stroke-linejoin:round"/>
<ellipse class="o" cx="906.4" cy="1078.8" rx="2.3" ry="1.2"/>
<ellipse class="o" cx="896.2" cy="1120.8" rx="2.3" ry="1.2"/>
<path class="o" style="fill:#fff" d="M1070.6,1080.8 L1109.8,1047.9 Q1113.5,1046.8 1113.3,1050.8 L1075.2,1085.6 Q1072,1086 1070.6,1080.8Z"/>
<path class="o" d="M1073.5,1082.8 L1111,1049.5"/>
<path class="o" style="fill:#fff" d="M1056.5,1092.8 L1071,1080.8 L1074.6,1085 L1060,1097.5 Z"/>
<ellipse class="o" cx="1058.2" cy="1095.2" rx="1.6" ry="2.6" transform="rotate(40 1058.2 1095.2)" style="fill:#fff"/>
<path class="o" d="M1071,1080.8 L1074.6,1085"/>
<path class="o" d="M774.5,1212.7 L910,1289.5"/>
<path class="o" d="M750.4,1264.2 L892.3,1346"/>
<path class="ph" d="M910,1290 L935,1305"/>
<path class="o" style="fill:#fff" d="M757,1259.4 L893.5,1280.9 Q899,1285 896.7,1289.6 L757.6,1269 Z"/>
<path class="o" style="fill:#fff" d="M739.3,1249.9 L750.4,1252.3 L750.4,1276.1 L739.3,1273.7 A8.7,11.9 0 0 1 739.3,1249.9Z"/>
<ellipse class="o" cx="750.4" cy="1264.2" rx="8.7" ry="11.9" style="fill:#fff"/>
<ellipse class="o" cx="750.4" cy="1264.2" rx="6.6" ry="9.4"/>
<ellipse class="o" cx="750.9" cy="1264.8" rx="5.6" ry="8.2"/>
<path class="o" style="fill:#fff" d="M899.5,1270.6 L907.8,1277.4 L907.8,1300.2 L899.5,1293.4 A8.7,11.4 0 0 1 899.5,1270.6Z"/>
<ellipse class="o" cx="907.8" cy="1288.8" rx="8.7" ry="11.4" style="fill:#fff"/>
<ellipse class="o" cx="907.8" cy="1288.8" rx="6.6" ry="9.0"/>
<ellipse class="o" cx="908.3" cy="1289.3" rx="5.6" ry="7.8"/>
<path class="o" style="fill:#fff" d="M850.7,1246.5 L853.7,1247.5 L853.7,1270.7 L850.7,1269.7 A7.2,11.6 0 0 1 850.7,1246.5Z"/>
<ellipse class="o" cx="853.7" cy="1259.1" rx="7.2" ry="11.6" style="fill:#fff"/>
<path class="o" style="fill:#fff" d="M854.2,1248.8 L863.3,1253.4 L863.3,1275.0 L854.2,1270.4 A8,10.8 0 0 1 854.2,1248.8Z"/>
<ellipse class="o" cx="863.3" cy="1264.2" rx="8.0" ry="10.8" style="fill:#fff"/>
<ellipse class="o" cx="863.3" cy="1264.2" rx="6.4" ry="8.8"/>
<ellipse class="ot" cx="863.7" cy="1264.6" rx="4.6" ry="6.4"/>
<ellipse class="o" cx="864.1" cy="1265.0" rx="2.4" ry="3.2"/>
<path class="o" style="fill:#fff" d="M786.5,1274.9 L789.5,1275.9 L789.5,1299.1 L786.5,1298.1 A7.2,11.6 0 0 1 786.5,1274.9Z"/>
<ellipse class="o" cx="789.5" cy="1287.5" rx="7.2" ry="11.6" style="fill:#fff"/>
<path class="o" style="fill:#fff" d="M790.0,1277.2 L799.7,1282.0 L799.7,1303.6 L790.0,1298.8 A8,10.8 0 0 1 790.0,1277.2Z"/>
<ellipse class="o" cx="799.7" cy="1292.8" rx="8.0" ry="10.8" style="fill:#fff"/>
<ellipse class="o" cx="799.7" cy="1292.8" rx="6.4" ry="8.8"/>
<ellipse class="ot" cx="800.1" cy="1293.2" rx="4.6" ry="6.4"/>
<ellipse class="o" cx="800.5" cy="1293.6" rx="2.4" ry="3.2"/>
<path class="o" style="fill:#fff" d="M826.7,1235.3 L838.7,1243.3 L838.7,1256.5 L826.7,1248.5 A4.6,6.6 0 0 1 826.7,1235.3Z"/>
<ellipse class="o" cx="838.7" cy="1249.9" rx="4.6" ry="6.6" style="fill:#fff"/>
<ellipse class="o" cx="838.7" cy="1249.9" rx="2.0" ry="2.6"/>
<path class="o" style="fill:#fff" d="M818.8,1297.3 L832.3,1305.3 L832.3,1318.5 L818.8,1310.5 A4.6,6.6 0 0 1 818.8,1297.3Z"/>
<ellipse class="o" cx="832.3" cy="1311.9" rx="4.6" ry="6.6" style="fill:#fff"/>
<ellipse class="o" cx="832.3" cy="1311.9" rx="2.0" ry="2.6"/>
<ellipse class="o" cx="811.7" cy="1233.4" rx="9.0" ry="10.3" style="fill:#fff"/>
<ellipse class="o" cx="811.7" cy="1233.4" rx="1.8" ry="2.2"/>
<ellipse class="o" cx="857.1" cy="1325.4" rx="9.0" ry="10.3" style="fill:#fff"/>
<ellipse class="o" cx="857.1" cy="1325.4" rx="1.8" ry="2.2"/>
<path class="o" style="fill:#fff" d="M881.0,1182.7 L859.0,1168.5 L855.2,1174.3 L877.2,1188.6Z"/>
<ellipse class="o" cx="857.1" cy="1171.4" rx="1.6" ry="3.5" transform="rotate(-147.03515677307945 857.1 1171.4)" style="fill:#fff"/>
<line class="o" x1="861.5" y1="1170.1" x2="857.7" y2="1176.0"/>
<path class="o" style="fill:#fff" d="M876.0,1186.9 L879.0,1182.3 L882.1,1181.1 L885.9,1183.5 L886.0,1186.9 L883.0,1191.5 L879.9,1192.7 L876.1,1190.3Z"/>
<path class="o" d="M885.9,1183.5 L882.8,1184.8 L879.8,1189.4 L879.9,1192.7 L883.0,1191.5 L886.0,1186.9Z"/>
<line class="o" x1="882.8" y1="1184.8" x2="879.0" y2="1182.3"/>
<line class="o" x1="879.8" y1="1189.4" x2="876.0" y2="1186.9"/>
<line class="o" x1="883.0" y1="1191.5" x2="879.2" y2="1189.0"/>
<line class="o" x1="886.0" y1="1186.9" x2="882.2" y2="1184.4"/>
<path class="o" style="fill:#fff" d="M774.8,1216.7 L798.7,1230.1 L801.9,1224.3 L778.1,1210.9Z"/>
<ellipse class="o" cx="800.3" cy="1227.2" rx="1.5" ry="3.3" transform="rotate(29.336661778784332 800.3 1227.2)" style="fill:#fff"/>
<line class="o" x1="796.1" y1="1228.6" x2="799.3" y2="1222.9"/>
<path class="o" style="fill:#fff" d="M769.5,1213.1 L772.2,1208.3 L775.2,1206.8 L779.2,1209.0 L779.5,1212.3 L776.8,1217.1 L773.8,1218.6 L769.8,1216.4Z"/>
<path class="o" d="M769.8,1216.4 L772.9,1214.9 L775.5,1210.1 L775.2,1206.8 L772.2,1208.3 L769.5,1213.1Z"/>
<line class="o" x1="772.9" y1="1214.9" x2="776.8" y2="1217.1"/>
<line class="o" x1="775.5" y1="1210.1" x2="779.5" y2="1212.3"/>
<line class="o" x1="772.2" y1="1208.3" x2="776.1" y2="1210.5"/>
<line class="o" x1="769.5" y1="1213.1" x2="773.5" y2="1215.3"/>
<path class="o" style="fill:#fff" d="M892.4,1341.8 L869.4,1326.6 L865.6,1332.4 L888.5,1347.7Z"/>
<ellipse class="o" cx="867.5" cy="1329.5" rx="1.6" ry="3.5" transform="rotate(-146.36328048422098 867.5 1329.5)" style="fill:#fff"/>
<line class="o" x1="871.9" y1="1328.2" x2="868.1" y2="1334.1"/>
<path class="o" style="fill:#fff" d="M887.3,1346.0 L890.4,1341.4 L893.5,1340.2 L897.2,1342.7 L897.3,1346.0 L894.2,1350.6 L891.1,1351.8 L887.4,1349.3Z"/>
<path class="o" d="M897.2,1342.7 L894.1,1343.9 L891.1,1348.5 L891.1,1351.8 L894.2,1350.6 L897.3,1346.0Z"/>
<line class="o" x1="894.1" y1="1343.9" x2="890.4" y2="1341.4"/>
<line class="o" x1="891.1" y1="1348.5" x2="887.3" y2="1346.0"/>
<line class="o" x1="894.2" y1="1350.6" x2="890.5" y2="1348.1"/>
<line class="o" x1="897.3" y1="1346.0" x2="893.5" y2="1343.5"/>
<path class="o" d="M831,1153.5 L857,1170"/>
<path class="o" d="M930.2,1279.1 Q930,1275 933.4,1274.7 Q935,1273.5 936.6,1273.9 L950.9,1280.7 Q953,1281.8 955.6,1281.9 L971.5,1293.4 Q975,1297 973.5,1297.4 L971.5,1299.7 L951,1314.8 L947.7,1312.5 L938.2,1301.3 Q931,1290 930.2,1279.1Z"/>
<path class="o" d="M933,1276.5 L950.5,1283 L970,1295.5"/>
<path class="o" style="fill:#fff" d="M969.5,1300.5 L972.8,1318 Q973.5,1322 971.5,1323.6 Q968,1328 963.6,1330 Q959,1332.5 955,1331.5 Q950,1329 949.3,1322 Q949,1317 951,1314.8 Z"/>
<path class="o" d="M951.5,1316.5 Q951,1325 955,1329.5"/>
<ellipse class="o" cx="936.6" cy="1284.6" rx="1.3" ry="2.4" transform="rotate(-35 936.6 1284.6)"/>
<ellipse class="o" cx="945.3" cy="1288.2" rx="1.3" ry="2.4" transform="rotate(-35 945.3 1288.2)"/>
<ellipse class="o" cx="956.4" cy="1288.6" rx="1.3" ry="2.4" transform="rotate(-35 956.4 1288.6)"/>
<ellipse class="o" cx="940.1" cy="1298.2" rx="1.3" ry="2.4" transform="rotate(-35 940.1 1298.2)"/>
<ellipse class="o" cx="950.1" cy="1305.7" rx="1.3" ry="2.4" transform="rotate(-35 950.1 1305.7)"/>
<ellipse class="o" cx="966.8" cy="1295.8" rx="1.3" ry="2.4" transform="rotate(-35 966.8 1295.8)"/>
<ellipse class="o" cx="961.6" cy="1320.0" rx="1.6" ry="2.4" transform="rotate(-20 961.6 1320.0)"/>
<path class="o" style="fill:#fff" d="M972.0,1317.3 L976.0,1319.8 L976.0,1328.2 L972.0,1325.7 A3.0,4.2 0 0 1 972.0,1317.3Z"/>
<ellipse class="o" cx="976.0" cy="1324.0" rx="3.0" ry="4.2" style="fill:#fff"/>
<path class="o" d="M962,1320 L987,1334.3"/>
<path class="o" style="fill:#fff;stroke-width:1.3" d="M993.0,1334.3 L990.0,1339.8 L984.0,1339.8 L981.0,1334.3 L984.0,1328.8 L990.0,1328.8Z"/>
<ellipse class="o" cx="987.0" cy="1334.3" rx="4.8" ry="5.1"/>
<ellipse class="o" cx="987.6" cy="1334.3" rx="2.6" ry="2.9"/>
<path class="o" d="M912.3,1322 L946,1294"/>
<path class="o" style="fill:#fff;stroke-width:1.3" d="M916.9,1322.0 L914.6,1326.2 L910.0,1326.2 L907.7,1322.0 L910.0,1317.8 L914.6,1317.8Z"/>
<ellipse class="o" cx="912.3" cy="1322.0" rx="3.7" ry="3.9"/>
<ellipse class="o" cx="912.9" cy="1322.0" rx="2.0" ry="2.2"/>
<path class="o" style="fill:#fff;stroke-width:1.3" d="M933.6,1312.5 L931.3,1316.7 L926.7,1316.7 L924.4,1312.5 L926.7,1308.3 L931.3,1308.3Z"/>
<ellipse class="o" cx="929.0" cy="1312.5" rx="3.7" ry="3.9"/>
<ellipse class="o" cx="929.6" cy="1312.5" rx="2.0" ry="2.2"/>
<path class="o" d="M773.7,1124.5 L789,1134.7"/>
<path class="o" d="M653,1208.5 L683,1223"/>
<path class="o" style="fill:#fff" d="M764.1,1112.9 L768.5,1113.9 L768.5,1128.3 L764.1,1127.3 A6.4,7.2 0 0 1 764.1,1112.9Z"/>
<ellipse class="o" cx="768.5" cy="1121.1" rx="6.4" ry="7.2" style="fill:#fff"/>
<ellipse class="o" cx="768.9" cy="1121.2" rx="2.6" ry="3.0"/>
<path class="o" style="fill:#fff;stroke-width:1.1" d="M645.6,1207.0 L648.1,1202.0 L654.1,1201.2 L658.6,1205.5 L659.1,1211.0 L656.1,1215.5 L649.6,1215.8 L645.6,1211.5Z"/>
<path class="o" d="M648,1206 L645.6,1204 M647.5,1212 L646,1214.5"/>
<ellipse class="o" cx="654.4" cy="1209.1" rx="4.6" ry="5.4" style="fill:#fff"/>
<ellipse class="o" cx="654.8" cy="1209.3" rx="2.2" ry="2.7"/>
<path class="o" style="fill:#fff" d="M763.5,1134 L771,1130.8 L777,1134.5 L777,1137 L770,1141 L763.5,1137.5 Z"/>
<ellipse class="ot" cx="770.5" cy="1134.6" rx="2.4" ry="1.7"/>
<path class="ot" d="M765,1138.5 L767,1143 L770,1143.5"/>
<line class="l" x1="728.7" y1="853.8" x2="761.8" y2="874.5"/>
<line class="l" x1="922.5" y1="871.0" x2="834.6" y2="874.4"/>
<line class="l" x1="922.5" y1="871.0" x2="857.5" y2="911.6"/>
<line class="l" x1="922.5" y1="871.0" x2="876.1" y2="915.9"/>
<line class="l" x1="969.5" y1="901.2" x2="896.2" y2="960.2"/>
<line class="l" x1="1060.8" y1="1038.6" x2="1085.0" y2="1063.0"/>
<line class="l" x1="681.5" y1="1083.0" x2="801.7" y2="1057.5"/>
<line class="l" x1="936.2" y1="1118.3" x2="912.4" y2="1125.0"/>
<line class="l" x1="681.2" y1="1114.8" x2="759.7" y2="1120.7"/>
<line class="l" x1="680.2" y1="1145.7" x2="763.5" y2="1137.2"/>
<line class="l" x1="604.5" y1="1202.7" x2="641.4" y2="1206.7"/>
<line class="l" x1="805.0" y1="1195.5" x2="810.6" y2="1223.0"/>
<line class="l" x1="845.1" y1="1200.5" x2="864.6" y2="1183.0"/>
<line class="l" x1="867.5" y1="1218.9" x2="838.5" y2="1239.6"/>
<line class="l" x1="873.7" y1="1260.9" x2="905.7" y2="1260.9"/>
<line class="l" x1="691.0" y1="1263.2" x2="778.8" y2="1222.5"/>
<line class="l" x1="569.2" y1="1303.9" x2="606.7" y2="1321.7"/>
<line class="l" x1="643.4" y1="1343.4" x2="733.0" y2="1275.5"/>
<line class="l" x1="688.5" y1="1361.8" x2="785.3" y2="1300.7"/>
<line class="l" x1="721.9" y1="1381.8" x2="818.7" y2="1315.0"/>
<line class="l" x1="833.9" y1="1372.2" x2="849.8" y2="1338.4"/>
<line class="l" x1="856.5" y1="1387.2" x2="877.2" y2="1345.1"/>
<line class="l" x1="887.0" y1="1402.4" x2="910.6" y2="1326.7"/>
<line class="l" x1="887.0" y1="1402.4" x2="927.2" y2="1313.4"/>
<line class="l" x1="911.5" y1="1418.8" x2="950.6" y2="1333.4"/>
<line class="l" x1="934.4" y1="1431.6" x2="985.7" y2="1338.4"/>
<use href="#g1" transform="translate(702.06,854.80) scale(0.01094)"/>
<text transform="translate(714.52,854.80) scale(1,1.035)">6</text>
<use href="#g1" transform="translate(920.06,870.90) scale(0.01094)"/>
<text transform="translate(932.52,870.90) scale(1,1.035)">6</text>
<text transform="translate(969.95,900.00) scale(1,1.035)">9</text>
<use href="#g1" transform="translate(1037.16,1038.50) scale(0.01094)"/>
<text transform="translate(1049.62,1038.50) scale(1,1.035)">3</text>
<use href="#g1" transform="translate(654.86,1091.50) scale(0.01094)"/>
<text transform="translate(667.32,1091.50) scale(1,1.035)">2</text>
<use href="#g1" transform="translate(933.16,1123.60) scale(0.01094)"/>
<text transform="translate(945.62,1123.60) scale(1,1.035)">2</text>
<text transform="translate(666.05,1123.10) scale(1,1.035)">3</text>
<text transform="translate(665.69,1154.90) scale(1,1.035)">4</text>
<text transform="translate(589.55,1209.20) scale(1,1.035)">3</text>
<use href="#g1" transform="translate(790.06,1192.40) scale(0.01094)"/>
<text transform="translate(802.52,1192.40) scale(1,1.035)">8</text>
<text transform="translate(830.47,1213.00) scale(1,1.035)">2</text>
<use href="#g1" transform="translate(864.16,1217.80) scale(0.01094)"/>
<text transform="translate(876.62,1217.80) scale(1,1.035)">7</text>
<text transform="translate(889.08,1217.80) scale(1,1.035)">:</text>
<text transform="translate(895.30,1217.80) scale(1,1.035)">3</text>
<use href="#g1" transform="translate(904.36,1267.40) scale(0.01094)"/>
<text transform="translate(916.82,1267.40) scale(1,1.035)">7</text>
<text transform="translate(929.28,1267.40) scale(1,1.035)">:</text>
<text transform="translate(935.50,1267.40) scale(1,1.035)">2</text>
<text transform="translate(676.77,1275.30) scale(1,1.035)">2</text>
<use href="#g1" transform="translate(607.56,1334.30) scale(0.01094)"/>
<use href="#g1" transform="translate(617.06,1360.60) scale(0.01094)"/>
<text transform="translate(629.52,1360.60) scale(1,1.035)">7</text>
<use href="#g1" transform="translate(639.76,1379.40) scale(0.01094)"/>
<text transform="translate(652.22,1379.40) scale(1,1.035)">7</text>
<text transform="translate(664.68,1379.40) scale(1,1.035)">:</text>
<text transform="translate(670.90,1379.40) scale(1,1.035)">2</text>
<use href="#g1" transform="translate(679.36,1402.90) scale(0.01094)"/>
<text transform="translate(691.82,1402.90) scale(1,1.035)">7</text>
<text transform="translate(704.28,1402.90) scale(1,1.035)">:</text>
<text transform="translate(710.50,1402.90) scale(1,1.035)">3</text>
<use href="#g1" transform="translate(813.96,1392.50) scale(0.01094)"/>
<text transform="translate(826.42,1392.50) scale(1,1.035)">8</text>
<text transform="translate(840.67,1405.90) scale(1,1.035)">2</text>
<text transform="translate(853.13,1405.90) scale(1,1.035)">6</text>
<use href="#g1" transform="translate(863.26,1421.20) scale(0.01094)"/>
<text transform="translate(875.72,1421.20) scale(1,1.035)">6</text>
<use href="#g1" transform="translate(890.56,1437.20) scale(0.01094)"/>
<text transform="translate(903.02,1437.20) scale(1,1.035)">0</text>
<text transform="translate(923.95,1449.40) scale(1,1.035)">3</text>
</svg></body></html>
